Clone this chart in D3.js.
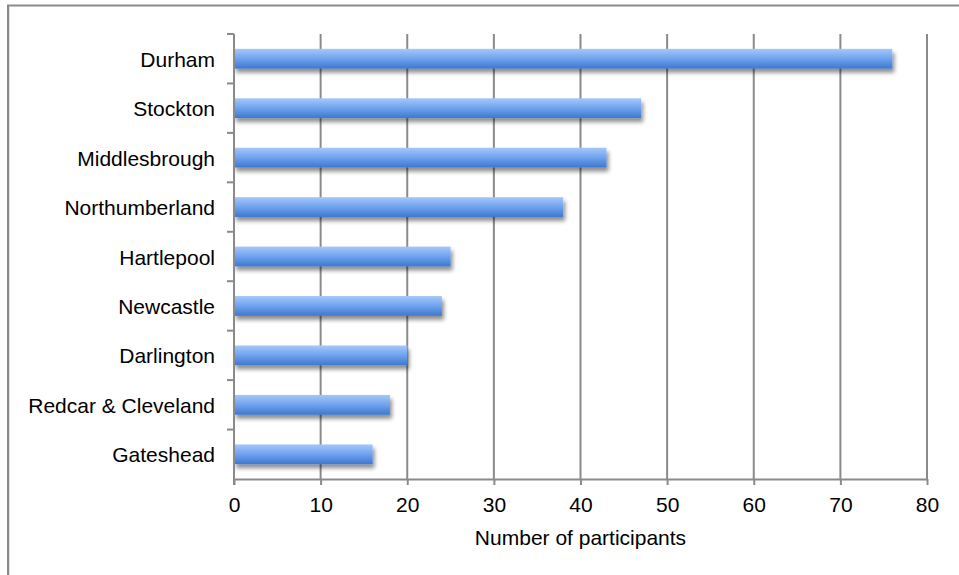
<!DOCTYPE html>
<html>
<head>
<meta charset="utf-8">
<script src="https://cdn.jsdelivr.net/npm/d3@7"></script>
<style>
  html, body { margin: 0; padding: 0; background: #fff; }
  svg { display: block; }
  text { font-family: "Liberation Sans", Arial, Helvetica, sans-serif; fill: #000; }
</style>
</head>
<body>
<svg id="chart" width="959" height="575"></svg>
<script>
// Participants per area
const categories = ["Durham", "Stockton", "Middlesbrough", "Northumberland", "Hartlepool",
                    "Newcastle", "Darlington", "Redcar & Cleveland", "Gateshead"];
const participants = [76, 47, 43, 38, 25, 24, 20, 18, 16];
const xTicks = [0, 10, 20, 30, 40, 50, 60, 70, 80];
const xTitle = "Number of participants";

const svg = d3.select("#chart");
const W = 959, H = 575;
const plot = { left: 234, right: 927, top: 34, bottom: 479 };
const gridColor = "#8a8a8a";

// Frame around the chart area
svg.append("path")
  .attr("d", `M8,${H} L8,5.5 L${W},5.5`)
  .attr("fill", "none")
  .attr("stroke", gridColor)
  .attr("stroke-width", 2);
svg.append("path")
  .attr("d", `M9.5,${H} L9.5,7`)
  .attr("fill", "none")
  .attr("stroke", "#e2e2e2")
  .attr("stroke-width", 1);

const x = d3.scaleLinear().domain([0, 80]).range([plot.left, plot.right]);
const y = d3.scaleBand().domain(categories).range([plot.top, plot.bottom]).paddingInner(0.6).paddingOuter(0.3);
const yBand = d3.scaleBand().domain(categories).range([plot.top, plot.bottom]);

const defs = svg.append("defs");
const grad = defs.append("linearGradient")
  .attr("id", "barFill").attr("x1", 0).attr("y1", 0).attr("x2", 0).attr("y2", 1);
grad.append("stop").attr("offset", "0%").attr("stop-color", "#a6c7fa");
grad.append("stop").attr("offset", "45%").attr("stop-color", "#74a6f0");
grad.append("stop").attr("offset", "100%").attr("stop-color", "#3d78cf");

const shadow = defs.append("filter").attr("id", "barShadow")
  .attr("x", "-5%").attr("y", "-40%").attr("width", "115%").attr("height", "200%");
shadow.append("feGaussianBlur").attr("in", "SourceAlpha").attr("stdDeviation", 2.2).attr("result", "blur");
shadow.append("feOffset").attr("in", "blur").attr("dx", 2).attr("dy", 3.5).attr("result", "off");
shadow.append("feComponentTransfer").attr("in", "off").attr("result", "soft")
  .append("feFuncA").attr("type", "linear").attr("slope", 0.45);
const merge = shadow.append("feMerge");
merge.append("feMergeNode").attr("in", "soft");
merge.append("feMergeNode").attr("in", "SourceGraphic");

// Vertical gridlines
svg.append("g")
  .selectAll("line")
  .data(xTicks.slice(1))
  .join("line")
  .attr("x1", d => x(d)).attr("x2", d => x(d))
  .attr("y1", plot.top).attr("y2", plot.bottom)
  .attr("stroke", gridColor).attr("stroke-width", 2);

// Bars
svg.append("g")
  .selectAll("rect")
  .data(categories.map((c, i) => ({ c, v: participants[i] })))
  .join("rect")
  .attr("x", x(0))
  .attr("y", d => y(d.c))
  .attr("width", d => x(d.v) - x(0))
  .attr("height", y.bandwidth())
  .attr("fill", "url(#barFill)")
  .attr("filter", "url(#barShadow)");

// Bottom axis
const xAxis = svg.append("g")
  .attr("transform", `translate(0,${plot.bottom})`)
  .call(d3.axisBottom(x).tickValues(xTicks).tickSize(6).tickPadding(12).tickSizeOuter(0));
xAxis.select(".domain").attr("stroke", gridColor).attr("stroke-width", 2);
xAxis.selectAll(".tick line").attr("stroke", gridColor).attr("stroke-width", 2);
xAxis.selectAll(".tick text")
  .attr("font-size", 21).attr("font-family", "Liberation Sans, Arial, sans-serif").attr("fill", "#000");

// Left axis with ticks between categories
const yAxisG = svg.append("g");
yAxisG.append("line")
  .attr("x1", plot.left).attr("x2", plot.left)
  .attr("y1", plot.top).attr("y2", plot.bottom + 6)
  .attr("stroke", gridColor).attr("stroke-width", 2);
const boundaries = categories.map(c => yBand(c));
yAxisG.selectAll("line.sep")
  .data(boundaries)
  .join("line")
  .attr("class", "sep")
  .attr("x1", plot.left - 7).attr("x2", plot.left)
  .attr("y1", d => d).attr("y2", d => d)
  .attr("stroke", gridColor).attr("stroke-width", 2);
yAxisG.selectAll("text")
  .data(categories)
  .join("text")
  .attr("x", plot.left - 19)
  .attr("y", d => yBand(d) + yBand.bandwidth() / 2 + 8)
  .attr("text-anchor", "end")
  .attr("font-size", 21)
  .text(d => d);

// Axis title
svg.append("text")
  .attr("x", (plot.left + plot.right) / 2)
  .attr("y", 545)
  .attr("text-anchor", "middle")
  .attr("font-size", 21)
  .text(xTitle);
</script>
</body>
</html>
